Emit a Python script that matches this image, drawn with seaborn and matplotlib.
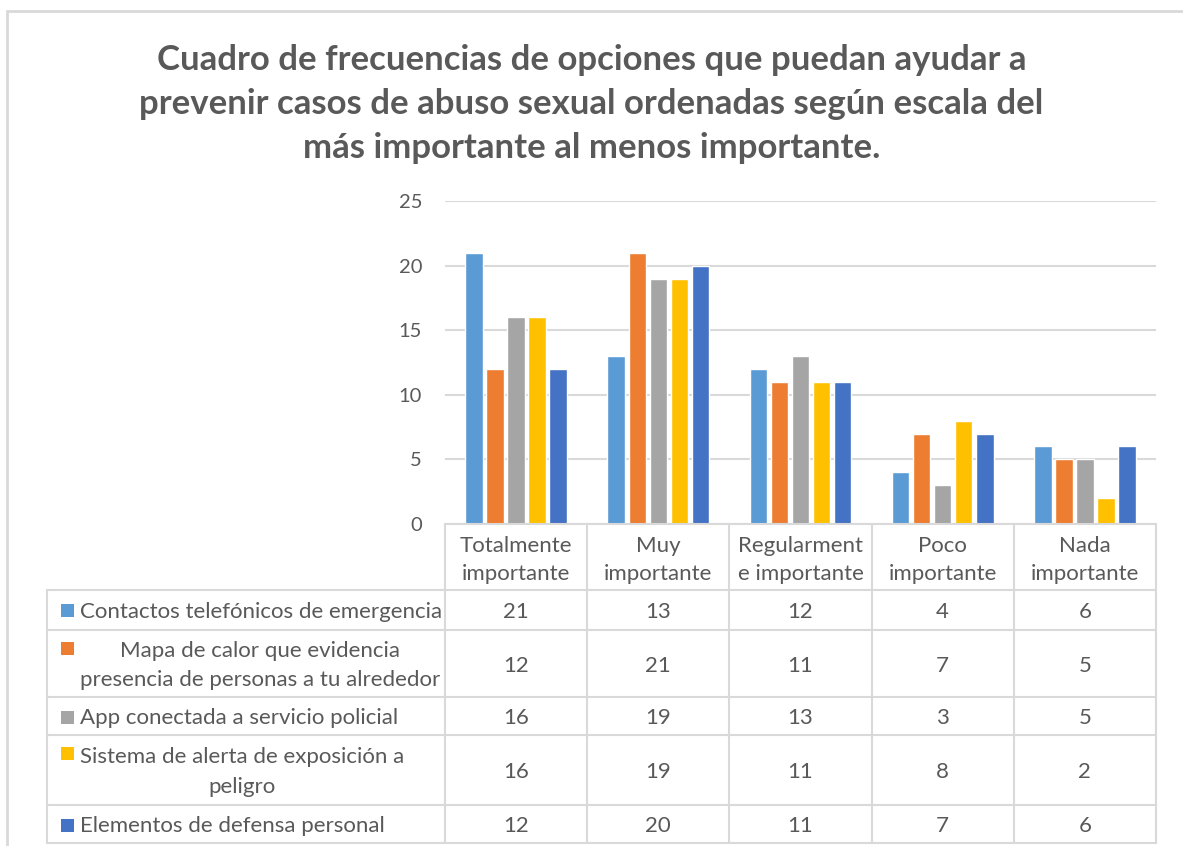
import matplotlib
matplotlib.use("Agg")
import matplotlib.pyplot as plt
import matplotlib.transforms as mtransforms
import pandas as pd
import seaborn as sns

categories = ["Totalmente\nimportante", "Muy\nimportante", "Regularment\ne importante",
              "Poco\nimportante", "Nada\nimportante"]
series_names = [
    "Contactos telefónicos de emergencia",
    "Mapa de calor que evidencia\npresencia de personas a tu alrededor",
    "App conectada a servicio policial",
    "Sistema de alerta de exposición a\npeligro",
    "Elementos de defensa personal",
]
contactos = [21, 13, 12, 4, 6]
mapa_calor = [12, 21, 11, 7, 5]
app_policial = [16, 19, 13, 3, 5]
sistema_alerta = [16, 19, 11, 8, 2]
defensa = [12, 20, 11, 7, 6]
colors = ["#5B9BD5", "#ED7D31", "#A5A5A5", "#FFC000", "#4472C4"]
title = ("Cuadro de frecuencias de opciones que puedan ayudar a\n"
         "prevenir casos de abuso sexual ordenadas según escala del\n"
         "más importante al menos importante.")

all_series = [contactos, mapa_calor, app_policial, sistema_alerta, defensa]
df = pd.DataFrame(
    [(cat, name, vals[i]) for name, vals in zip(series_names, all_series)
     for i, cat in enumerate(categories)],
    columns=["categoria", "opcion", "frecuencia"],
)

sns.set_style("white")
plt.rcParams["font.family"] = ["Lato", "DejaVu Sans"]
txt = "#595959"
grid = "#D9D9D9"

W, H = 1183, 846
fig = plt.figure(figsize=(W / 100, H / 100), dpi=100)


def fy(py):
    return 1 - py / H


ax = fig.add_axes([445 / W, fy(524), (1156 - 445) / W, (524 - 201) / H])
sns.barplot(data=df, x="categoria", y="frecuencia", hue="opcion",
            palette=colors, width=0.74, gap=0.17, ax=ax, legend=False,
            saturation=1, order=categories, hue_order=series_names)
ax.set_xlim(-0.5, len(categories) - 0.5)
ax.set_ylim(0, 25)
ax.set_yticks([0, 5, 10, 15, 20, 25])
ax.yaxis.grid(True, color=grid, linewidth=1.5)
ax.set_axisbelow(True)
ax.set_xticks([])
ax.set_xlabel("")
ax.set_ylabel("")
ax.tick_params(axis="y", labelsize=14.5, labelcolor=txt, length=0, pad=16.5)
for s in ["top", "right", "left"]:
    ax.spines[s].set_visible(False)
ax.spines["bottom"].set_color(grid)
ax.spines["bottom"].set_linewidth(1.5)

# data table below the axis
tr = mtransforms.blended_transform_factory(ax.transData, fig.transFigure)
rows = [524, 590, 630, 697, 735, 805, 843]
n = len(categories)
lw = 1.5
for i in range(n + 1):
    ax.plot([i - 0.5, i - 0.5], [fy(524), fy(rows[-1])], color=grid, lw=lw,
            transform=tr, clip_on=False)
for r in rows[1:]:
    fig.add_artist(plt.Line2D([47 / W, 1156 / W], [fy(r), fy(r)], color=grid, lw=lw))
fig.add_artist(plt.Line2D([47 / W, 47 / W], [fy(rows[1]), fy(rows[-1])], color=grid, lw=lw))

for i, cat in enumerate(categories):
    ax.text(i, fy((rows[0] + rows[1]) / 2 + 3), cat, transform=tr, ha="center", va="center",
            fontsize=16, color=txt, linespacing=1.45)

for k, (name, vals, c) in enumerate(zip(series_names, all_series, colors)):
    top, bot = rows[k + 1], rows[k + 2]
    yc = fy((top + bot) / 2 + 2)
    for i, v in enumerate(vals):
        ax.text(i, yc, str(v), transform=tr, ha="center", va="center",
                fontsize=16, color=txt)
    fig.text(80 / W, yc, name, ha="left", va="center", multialignment="center",
             fontsize=16, color=txt, linespacing=1.6)
    key_c = top + 20 if "\n" not in name else top + 18
    fig.patches.append(plt.Rectangle((61 / W, fy(key_c + 6.5)), 13 / W, 13 / H,
                                     transform=fig.transFigure, facecolor=c,
                                     edgecolor="none"))

fig.text(0.5, fy(104), title, ha="center", va="center", fontsize=25,
         fontweight="bold", color=txt, linespacing=1.45)

# chart border (top and left)
fig.add_artist(plt.Line2D([7 / W, 1], [fy(11), fy(11)], color=grid, lw=2))
fig.add_artist(plt.Line2D([7 / W, 7 / W], [fy(11), 0], color=grid, lw=2))

fig.savefig("out.png", dpi=100, facecolor="white")
